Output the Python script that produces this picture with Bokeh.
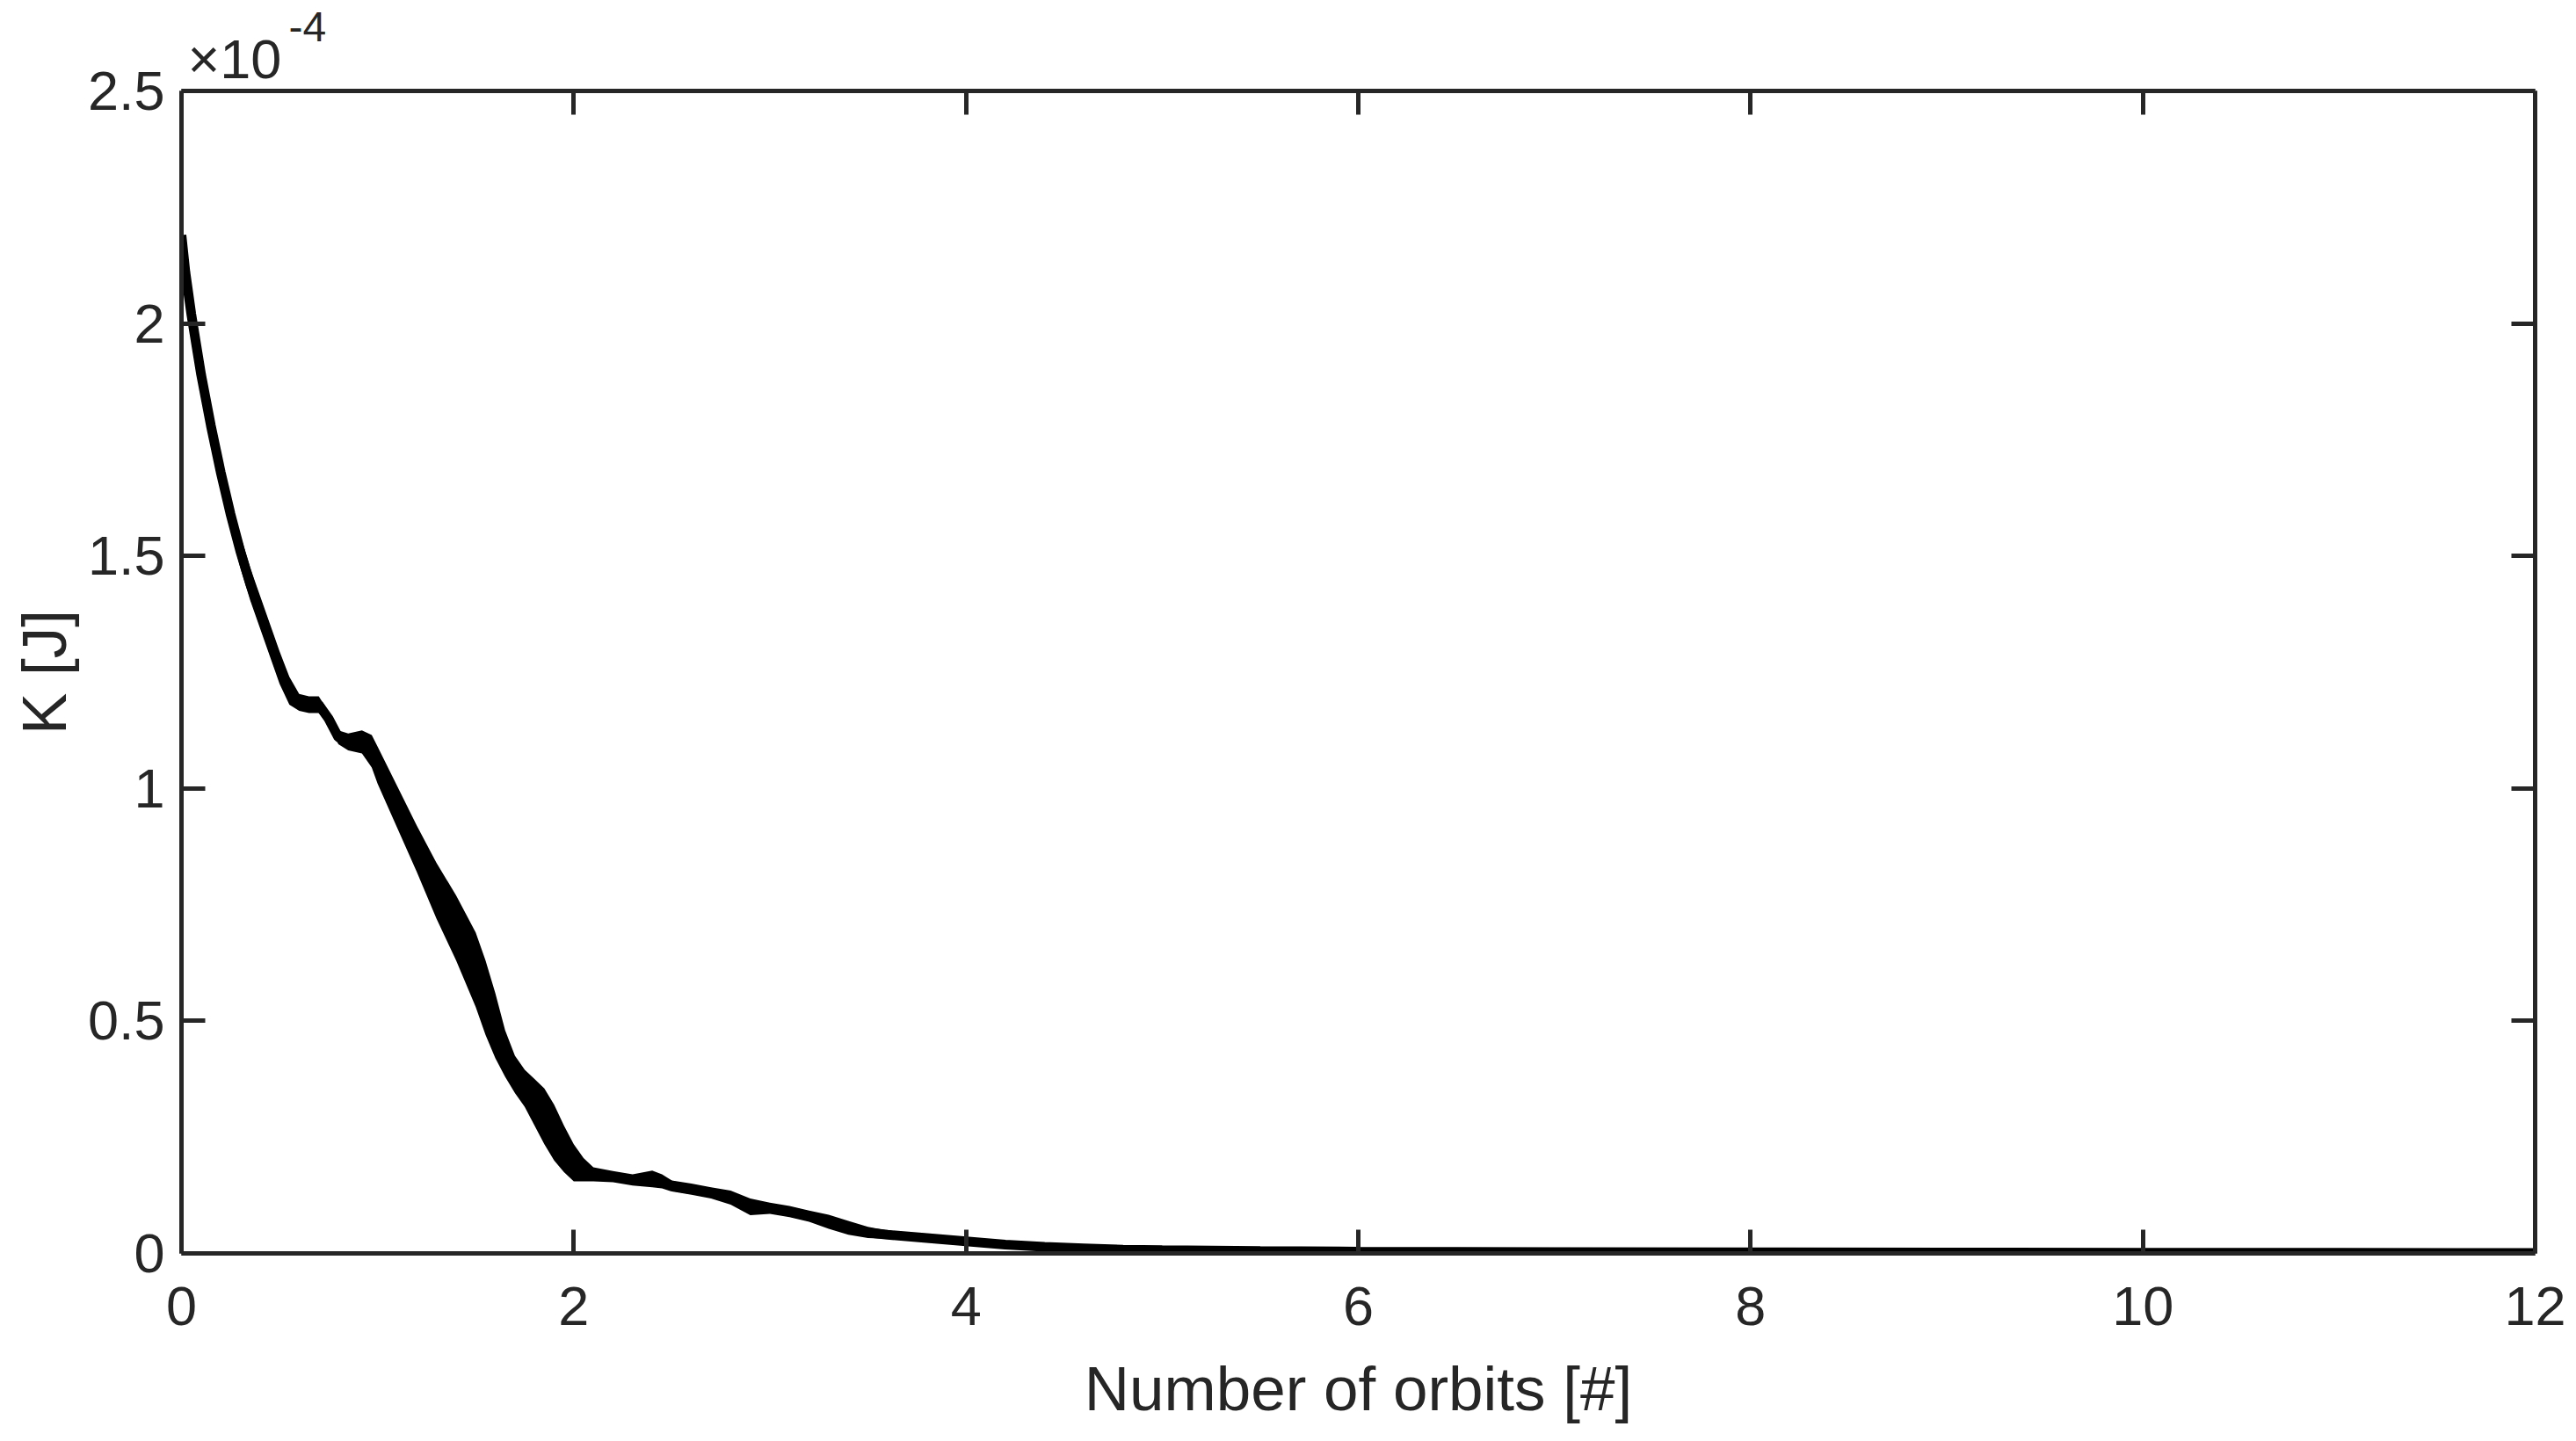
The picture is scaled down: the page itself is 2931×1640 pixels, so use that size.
from bokeh.plotting import figure
from bokeh.models import Range1d, FixedTicker, LinearAxis, Label, Title
from bokeh.embed import file_html
from bokeh.resources import INLINE

# Kinetic energy K (in units of 1e-4 J) vs number of orbits
orbits = [0.00, 0.02, 0.05, 0.10, 0.15, 0.20, 0.25, 0.30, 0.35, 0.40, 0.45, 0.50,
          0.55, 0.60, 0.65, 0.70, 0.75, 0.80, 0.85, 0.92, 0.97, 1.00, 1.10, 1.20,
          1.30, 1.40, 1.50, 1.55, 1.60, 1.65, 1.70, 1.75, 1.80, 1.85, 1.90, 1.95,
          2.00, 2.05, 2.10, 2.20, 2.30, 2.40, 2.45, 2.50, 2.60, 2.70, 2.80, 2.90,
          3.00, 3.10, 3.20, 3.30, 3.40, 3.50, 3.60, 3.80, 4.00, 4.20, 4.40, 4.60,
          4.80, 5.00, 5.50, 6.00, 7.00, 8.00, 9.00, 10.0, 11.0, 12.0]
k_center = [2.19, 2.11, 2.02, 1.89, 1.78, 1.68, 1.59, 1.51, 1.44, 1.38, 1.32, 1.26,
            1.21, 1.185, 1.18, 1.18, 1.15, 1.11, 1.10, 1.10, 1.08, 1.05, 0.96, 0.87,
            0.78, 0.70, 0.61, 0.55, 0.49, 0.43, 0.385, 0.355, 0.325, 0.295, 0.26, 0.225,
            0.195, 0.18, 0.17, 0.165, 0.158, 0.16, 0.155, 0.145, 0.138, 0.13, 0.12, 0.10,
            0.097, 0.09, 0.08, 0.068, 0.055, 0.045, 0.04, 0.033, 0.026, 0.019, 0.014, 0.011,
            0.008, 0.007, 0.005, 0.004, 0.003, 0.0025, 0.002, 0.0015, 0.0012, 0.001]
# half-height of the fast oscillation band around the curve (same units)
k_spread = [0.00, 0.025, 0.03, 0.03, 0.03, 0.035, 0.035, 0.035, 0.035, 0.035, 0.035, 0.035,
            0.03, 0.018, 0.018, 0.018, 0.015, 0.015, 0.018, 0.025, 0.035, 0.04, 0.045, 0.05,
            0.06, 0.07, 0.08, 0.08, 0.07, 0.05, 0.04, 0.04, 0.05, 0.06, 0.06, 0.05,
            0.04, 0.025, 0.015, 0.012, 0.012, 0.018, 0.015, 0.012, 0.012, 0.012, 0.015, 0.018,
            0.012, 0.012, 0.012, 0.015, 0.015, 0.012, 0.009, 0.008, 0.008, 0.006, 0.005, 0.004,
            0.003, 0.003, 0.003, 0.003, 0.003, 0.003, 0.003, 0.003, 0.003, 0.003]

x_ticks = [0, 2, 4, 6, 8, 10, 12]
x_tick_labels = ["0", "2", "4", "6", "8", "10", "12"]
y_ticks = [0, 0.5, 1, 1.5, 2, 2.5]
y_tick_labels = ["0", "0.5", "1", "1.5", "2", "2.5"]
x_label = "Number of orbits [#]"
y_label = "K [J]"
exponent_base = "\u00d710"
exponent_power = "-4"

FONT = "Liberation Sans"
INK = "#262626"

p = figure(width=2931, height=1640, output_backend="svg", toolbar_location=None,
           x_range=Range1d(0, 12), y_range=Range1d(0, 2.5),
           min_border_left=206, min_border_right=47, min_border_top=103,
           min_border_bottom=214, x_axis_label=x_label, y_axis_label=y_label)
p.grid.visible = False
p.outline_line_color = None
p.background_fill_color = "white"
p.border_fill_color = "white"

upper = [c + s for c, s in zip(k_center, k_spread)]
lower = [c - s for c, s in zip(k_center, k_spread)]
p.varea(x=orbits, y1=lower, y2=upper, fill_color="black")
p.line(orbits, k_center, line_color="black", line_width=11)

p.add_layout(LinearAxis(), "above")
p.add_layout(LinearAxis(), "right")

bottom_ax = p.below[0]
left_ax = p.left[0]
top_ax = p.above[0]
right_ax = p.right[0]

for ax in (bottom_ax, top_ax):
    ax.ticker = FixedTicker(ticks=x_ticks)
    ax.major_label_overrides = dict(zip(x_ticks, x_tick_labels))
for ax in (left_ax, right_ax):
    ax.ticker = FixedTicker(ticks=y_ticks)
    ax.major_label_overrides = dict(zip(y_ticks, y_tick_labels))

for ax in (bottom_ax, left_ax, top_ax, right_ax):
    ax.axis_line_color = INK
    ax.axis_line_width = 5
    ax.major_tick_line_color = INK
    ax.major_tick_line_width = 5
    ax.major_tick_in = 27
    ax.major_tick_out = 0
    ax.minor_tick_line_color = None
    ax.major_label_text_font = FONT
    ax.major_label_text_font_size = "63px"
    ax.major_label_text_color = INK
    ax.axis_label_text_font = FONT
    ax.axis_label_text_font_size = "71px"
    ax.axis_label_text_font_style = "normal"
    ax.axis_label_text_color = INK

bottom_ax.major_label_standoff = 38
bottom_ax.axis_label_standoff = 30
left_ax.major_label_standoff = 19
left_ax.axis_label_standoff = 7

for ax in (top_ax, right_ax):
    ax.major_label_text_font_size = "1px"
    ax.major_label_text_color = None
    ax.major_label_standoff = 0

p.add_layout(Title(text=exponent_base, align="left", offset=7, standoff=3,
                   text_font=FONT, text_font_size="63px", text_color=INK,
                   text_font_style="normal", text_baseline="alphabetic"), "above")
p.add_layout(Title(text=exponent_power, align="left", offset=122, standoff=-37,
                   text_font=FONT, text_font_size="48px", text_color=INK,
                   text_font_style="normal", text_baseline="alphabetic"), "above")

open("out.html", "w").write(file_html(p, INLINE))
